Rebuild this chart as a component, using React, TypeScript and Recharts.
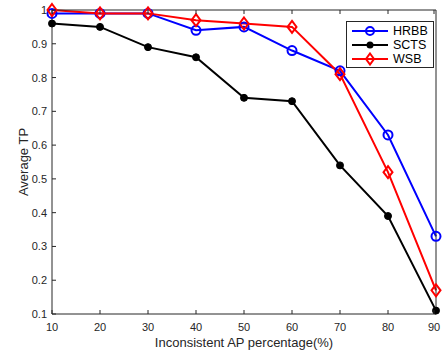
import React from "react";
import { LineChart, Line, XAxis, YAxis } from "recharts";

const percentages = [10, 20, 30, 40, 50, 60, 70, 80, 90];
const hrbb = [0.99, 0.99, 0.99, 0.94, 0.95, 0.88, 0.82, 0.63, 0.33];
const scts = [0.96, 0.95, 0.89, 0.86, 0.74, 0.73, 0.54, 0.39, 0.11];
const wsb = [1.0, 0.99, 0.99, 0.97, 0.96, 0.95, 0.81, 0.52, 0.17];
const yTicks = [0.1, 0.2, 0.3, 0.4, 0.5, 0.6, 0.7, 0.8, 0.9, 1];

const data = percentages.map((p, i) => ({ p, HRBB: hrbb[i], SCTS: scts[i], WSB: wsb[i] }));

const AXIS = "#262626";
const FONT = "'Liberation Sans', Arial, sans-serif";
const TICK_LEN = 4;

const OpenCircle = (props: any) => {
  const { cx, cy, stroke } = props;
  if (cx == null || cy == null) return null;
  return <circle cx={cx} cy={cy} r={4.5} fill="none" stroke={stroke} strokeWidth={2} />;
};

const FilledDot = (props: any) => {
  const { cx, cy } = props;
  if (cx == null || cy == null) return null;
  return <circle cx={cx} cy={cy} r={3.5} fill="#000" stroke="#000" />;
};

const Diamond = (props: any) => {
  const { cx, cy, stroke } = props;
  if (cx == null || cy == null) return null;
  return (
    <path
      d={`M${cx},${cy - 6} L${cx + 4.5},${cy} L${cx},${cy + 6} L${cx - 4.5},${cy} Z`}
      fill="none"
      stroke={stroke}
      strokeWidth={2}
    />
  );
};

// inward ticks, matlab style
const BottomTick = (props: any) => {
  const { x, y, payload } = props;
  return (
    <g>
      <line x1={x} y1={y} x2={x} y2={y - TICK_LEN} stroke={AXIS} />
      <text x={x} y={y + 17} textAnchor="middle" fill={AXIS} fontSize={11} fontFamily={FONT}>
        {payload.value}
      </text>
    </g>
  );
};

const TopTick = (props: any) => {
  const { x, y } = props;
  return <line x1={x} y1={y} x2={x} y2={y + TICK_LEN} stroke={AXIS} />;
};

const LeftTick = (props: any) => {
  const { x, y, payload } = props;
  return (
    <g>
      <line x1={x} y1={y} x2={x + TICK_LEN} y2={y} stroke={AXIS} />
      <text x={x - 5} y={y + 4} textAnchor="end" fill={AXIS} fontSize={11} fontFamily={FONT}>
        {payload.value}
      </text>
    </g>
  );
};

const RightTick = (props: any) => {
  const { x, y } = props;
  return <line x1={x} y1={y} x2={x - TICK_LEN} y2={y} stroke={AXIS} />;
};

const legendItems = [
  { name: "HRBB", color: "#0000ff", marker: "circle" },
  { name: "SCTS", color: "#000000", marker: "dot" },
  { name: "WSB", color: "#ff0000", marker: "diamond" },
];

function LegendBox() {
  return (
    <div
      style={{
        position: "absolute",
        left: 346,
        top: 21,
        border: `1px solid ${AXIS}`,
        background: "#fff",
        width: 88,
        height: 47,
        boxSizing: "border-box",
        padding: "2px 0 0 0",
        fontFamily: FONT,
        fontSize: 12.5,
        color: "#000",
      }}
    >
      {legendItems.map((it) => (
        <div key={it.name} style={{ display: "flex", alignItems: "center", height: 14 }}>
          <svg width={40} height={14} style={{ marginLeft: 5, flex: "none" }}>
            <line x1={0} y1={7} x2={36} y2={7} stroke={it.color} strokeWidth={2} />
            {it.marker === "circle" && <circle cx={18} cy={7} r={4} fill="none" stroke={it.color} strokeWidth={2} />}
            {it.marker === "dot" && <circle cx={18} cy={7} r={3.5} fill={it.color} />}
            {it.marker === "diamond" && (
              <path d="M18,1.5 L22,7 L18,12.5 L14,7 Z" fill="none" stroke={it.color} strokeWidth={2} />
            )}
          </svg>
          <span style={{ marginLeft: 1 }}>{it.name}</span>
        </div>
      ))}
    </div>
  );
}

export default function App() {
  return (
    <div style={{ position: "absolute", left: 0, top: 0, width: 442, height: 354, background: "#fff" }}>
      <LineChart width={442} height={354} data={data} margin={{ top: 9, right: 5, bottom: 39, left: 51 }}>
        <XAxis
          xAxisId="b"
          dataKey="p"
          type="number"
          domain={[10, 90]}
          ticks={percentages}
          height={1}
          tickSize={0}
          tickMargin={0}
          tickLine={false}
          stroke={AXIS}
          tick={<BottomTick />}
          label={{
            value: "Inconsistent AP percentage(%)",
            position: "bottom",
            offset: 23,
            style: { fill: AXIS, fontSize: 13, fontFamily: FONT },
          }}
        />
        <XAxis
          xAxisId="t"
          orientation="top"
          dataKey="p"
          type="number"
          domain={[10, 90]}
          ticks={percentages}
          height={1}
          tickSize={0}
          tickMargin={0}
          tickLine={false}
          tick={<TopTick />}
          stroke={AXIS}
        />
        <YAxis
          yAxisId="l"
          type="number"
          domain={[0.1, 1]}
          ticks={yTicks}
          width={1}
          tickSize={0}
          tickMargin={0}
          tickLine={false}
          stroke={AXIS}
          tick={<LeftTick />}
          label={{
            value: "Average TP",
            angle: -90,
            position: "left",
            offset: 28,
            style: { fill: AXIS, fontSize: 13, fontFamily: FONT, textAnchor: "middle" },
          }}
        />
        <YAxis
          yAxisId="r"
          orientation="right"
          type="number"
          domain={[0.1, 1]}
          ticks={yTicks}
          width={1}
          tickSize={0}
          tickMargin={0}
          tickLine={false}
          tick={<RightTick />}
          stroke={AXIS}
        />
        <Line
          xAxisId="b"
          yAxisId="l"
          dataKey="SCTS"
          stroke="#000000"
          strokeWidth={2}
          dot={<FilledDot />}
          isAnimationActive={false}
        />
        <Line
          xAxisId="b"
          yAxisId="l"
          dataKey="HRBB"
          stroke="#0000ff"
          strokeWidth={2}
          dot={<OpenCircle />}
          isAnimationActive={false}
        />
        <Line
          xAxisId="b"
          yAxisId="l"
          dataKey="WSB"
          stroke="#ff0000"
          strokeWidth={2}
          dot={<Diamond />}
          isAnimationActive={false}
        />
      </LineChart>
      <LegendBox />
    </div>
  );
}
